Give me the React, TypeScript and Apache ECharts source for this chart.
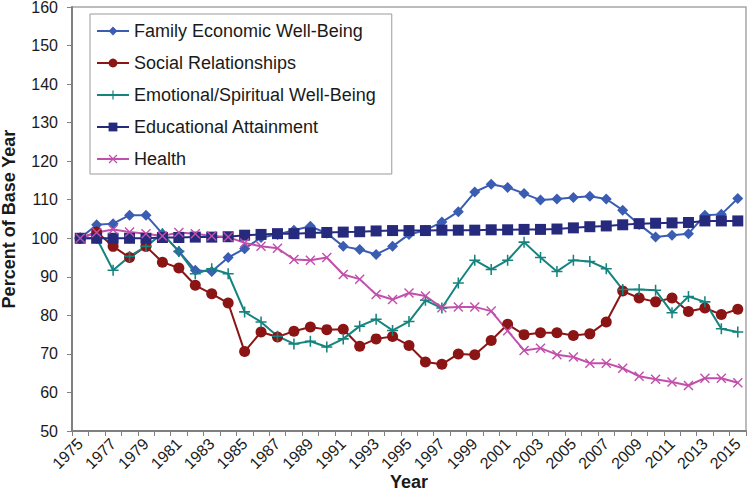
import React, { useEffect, useRef } from "react";
import * as echarts from "echarts";

const years = [
  "1975","1976","1977","1978","1979","1980","1981","1982","1983","1984",
  "1985","1986","1987","1988","1989","1990","1991","1992","1993","1994",
  "1995","1996","1997","1998","1999","2000","2001","2002","2003","2004",
  "2005","2006","2007","2008","2009","2010","2011","2012","2013","2014","2015",
];

const familyEconomic = [
  100, 103.5, 103.8, 106, 106, 101.2, 96.6, 91.7, 91.4, 95,
  97.3, 100.2, 101, 102.1, 103.1, 101.3, 97.9, 97.1, 95.8, 97.9,
  101, 102.1, 104.2, 106.9, 112, 114, 113.2, 111.6, 109.9, 110.2,
  110.6, 110.9, 110.2, 107.3, 103.6, 100.3, 100.8, 101.2, 106, 106.2, 110.3,
];

const socialRelationships = [
  100, 101.6, 97.9, 95, 97.9, 93.8, 92.3, 87.8, 85.6, 83.2,
  70.6, 75.7, 74.4, 75.9, 77, 76.3, 76.4, 72, 73.9, 74.5,
  72.2, 67.9, 67.3, 70, 69.8, 73.5, 77.7, 75, 75.5, 75.5,
  74.8, 75.2, 78.3, 86.3, 84.5, 83.5, 84.5, 81, 81.9, 80.2, 81.6,
];

const emotionalSpiritual = [
  100, 100, 91.7, 95.3, 97.9, 101.2, 96.6, 90.8, 92.1, 90.8,
  80.9, 78.3, 74.6, 72.6, 73.3, 71.8, 73.9, 77.2, 79, 76.1,
  78.4, 83.9, 81.9, 88.4, 94.3, 91.9, 94.3, 99, 95, 91.4,
  94.3, 94, 92.1, 86.7, 86.7, 86.5, 80.7, 84.9, 83.5, 76.5, 75.7,
];

const educationalAttainment = [
  100, 100, 100, 100, 100, 100.2, 100.2, 100.3, 100.3, 100.4,
  100.8, 101, 101.2, 101.2, 101.4, 101.5, 101.6, 101.7, 101.9, 102,
  102, 102, 102.1, 102.1, 102.1, 102.2, 102.2, 102.3, 102.3, 102.4,
  102.7, 103, 103.2, 103.5, 103.8, 103.9, 104, 104.1, 104.5, 104.5, 104.5,
];

const health = [
  100, 101.5, 102.3, 101.6, 101.2, 100.6, 101.5, 101.2, 100.6, 100.3,
  98.8, 97.9, 97.4, 94.5, 94.3, 95, 90.6, 89.4, 85.4, 84.1,
  85.8, 85, 82, 82.2, 82.2, 81.1, 76, 70.9, 71.5, 69.8,
  69.2, 67.6, 67.6, 66.3, 64.2, 63.4, 62.7, 61.8, 63.7, 63.7, 62.5,
];

const seriesNames = [
  "Family Economic Well-Being",
  "Social Relationships",
  "Emotional/Spiritual Well-Being",
  "Educational Attainment",
  "Health",
];

const FONT = "Arial, 'Liberation Sans', Helvetica, sans-serif";

const PLUS =
  "path://M4.3,0 L5.7,0 L5.7,4.3 L10,4.3 L10,5.7 L5.7,5.7 L5.7,10 L4.3,10 L4.3,5.7 L0,5.7 L0,4.3 L4.3,4.3 Z";
const CROSS =
  "path://M0,1 L1,0 L5,4 L9,0 L10,1 L6,5 L10,9 L9,10 L5,6 L1,10 L0,9 L4,5 Z";

export default function App() {
  const ref = useRef<HTMLDivElement>(null);

  useEffect(() => {
    if (!ref.current) return;
    const chart = echarts.init(ref.current, null, { renderer: "svg" });

    const mk = (
      name: string,
      data: number[],
      color: string,
      symbol: string,
      size: number
    ) => ({
      name,
      type: "line",
      data,
      color,
      symbol,
      symbolSize: size,
      showAllSymbol: true,
      lineStyle: { color, width: 2 },
      itemStyle: { color },
      z: 3,
    });

    chart.setOption({
      animation: false,
      backgroundColor: "#ffffff",
      textStyle: { fontFamily: FONT },
      grid: {
        left: 72,
        right: 3,
        top: 7,
        bottom: 64,
        containLabel: false,
        outerBoundsMode: "none",
        show: true,
        borderColor: "#a6a6a6",
        borderWidth: 1.5,
      },
      legend: {
        orient: "vertical",
        left: 90,
        top: 14,
        data: seriesNames,
        itemWidth: 32,
        itemHeight: 11,
        itemGap: 14,
        padding: [8, 16, 6, 6],
        borderColor: "#9a9a9a",
        borderWidth: 1,
        backgroundColor: "#ffffff",
        textStyle: { fontFamily: FONT, fontSize: 18, color: "#1a1a1a" },
      },
      xAxis: {
        type: "category",
        data: years,
        boundaryGap: true,
        name: "Year",
        nameLocation: "middle",
        nameGap: 42,
        nameMoveOverlap: false,
        nameTextStyle: { fontFamily: FONT, fontSize: 18, fontWeight: "bold", color: "#1a1a1a" },
        axisLine: { lineStyle: { color: "#808080", width: 2 } },
        axisTick: { show: true, interval: 0, length: 5, lineStyle: { color: "#808080" } },
        axisLabel: {
          interval: 1,
          rotate: 45,
          margin: 10,
          fontFamily: FONT,
          fontSize: 16,
          color: "#1a1a1a",
        },
        splitLine: { show: false },
      },
      yAxis: {
        type: "value",
        min: 50,
        max: 160,
        interval: 10,
        name: "Percent of Base Year",
        nameLocation: "middle",
        nameGap: 54,
        nameMoveOverlap: false,
        nameTextStyle: { fontFamily: FONT, fontSize: 18, fontWeight: "bold", color: "#1a1a1a" },
        axisLine: { show: true, lineStyle: { color: "#808080", width: 2 } },
        axisTick: { show: true, length: 5, lineStyle: { color: "#808080" } },
        axisLabel: { margin: 14, fontFamily: FONT, fontSize: 16, color: "#1a1a1a" },
        splitLine: { show: false },
      },
      series: [
        mk(seriesNames[0], familyEconomic, "#3a5db3", "diamond", 11),
        mk(seriesNames[1], socialRelationships, "#8b1414", "circle", 11),
        mk(seriesNames[2], emotionalSpiritual, "#15847f", PLUS, 11),
        mk(seriesNames[3], educationalAttainment, "#262a7c", "rect", 11),
        mk(seriesNames[4], health, "#c24fab", CROSS, 10),
      ],
    });

    return () => chart.dispose();
  }, []);

  return <div ref={ref} style={{ width: 749, height: 495, position: "absolute", left: 0, top: 0 }} />;
}
